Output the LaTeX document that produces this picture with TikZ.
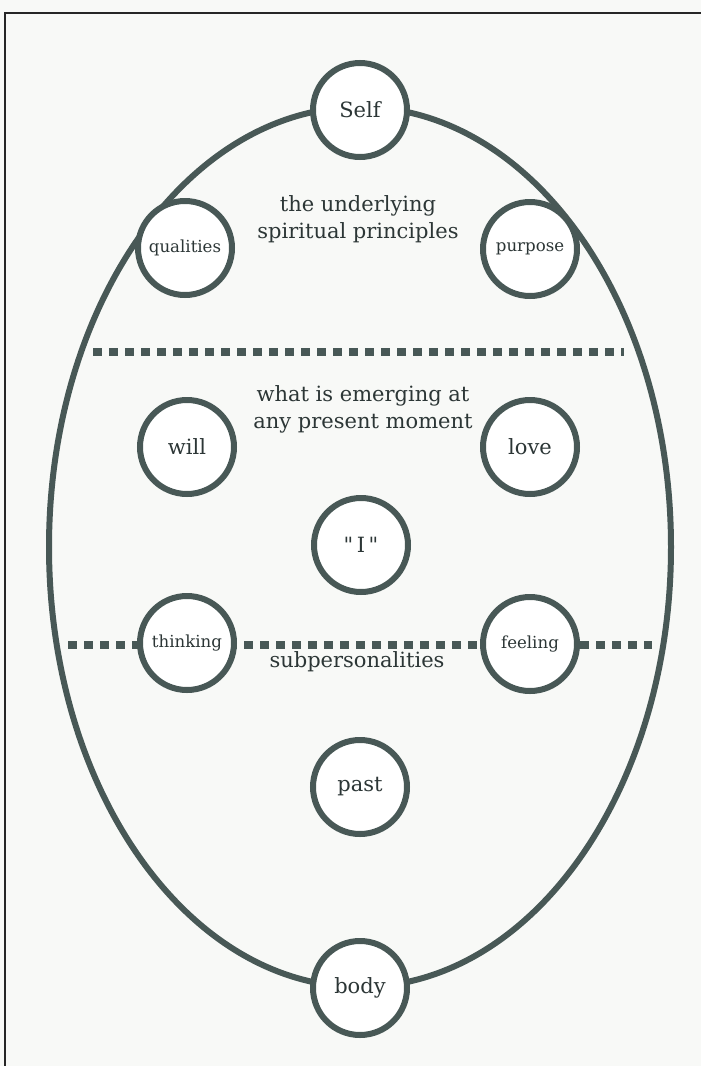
\documentclass[tikz,border=0pt]{standalone}
\usepackage{fontspec}
\setmainfont{DejaVu Serif}
\newfontfamily\plainserif{DejaVu Serif}

\definecolor{inkgrey}{RGB}{72,88,86}
\definecolor{textgrey}{RGB}{44,54,54}
\definecolor{paper}{RGB}{248,249,247}

\tikzset{
  psyche/.style={circle, draw=inkgrey, line width=3pt, fill=white,
    minimum size=47pt, inner sep=0pt, text=textgrey,
    font=\fontsize{10.5}{12}\selectfont},
  smallpsyche/.style={psyche, font=\fontsize{8.3}{10}\selectfont},
  level/.style={text=textgrey, align=center,
    font=\fontsize{10.5}{13.5}\selectfont},
  divide/.style={draw=inkgrey, line width=4pt, dash pattern=on 4.5pt off 3.5pt},
}

\begin{document}
\begin{tikzpicture}[x=0.5pt,y=-0.5pt]
            % page and frame
            \fill[paper] (0,0) rectangle (701,1066);
            \useasboundingbox (0,0) rectangle (701,1066);
            \draw[black!85, line width=0.8pt] (701,13) -- (5,13) -- (5,1066);

            % the egg
            \draw[inkgrey, line width=3pt] (360,547) ellipse [x radius=311, y radius=440];

            % Draw dividing lines
            \coordinate (upperL) at (93,352);
            \coordinate (upperR) at (624,352);
            \coordinate (lowerL) at (68,645);
            \coordinate (lowerR) at (652,645);
            \draw[divide] (upperL) -- (upperR);
            \draw[divide] (lowerL) -- (lowerR);

            % Add level labels
            \node[level] (principles) at (358,219) {the underlying\\spiritual principles};
            \node[level] (emerging) at (363,409) {what is emerging at\\any present moment};
            \node[level] (subs) at (357,662) {subpersonalities};

            % circles
            \node[psyche] (self) at (360,110) {Self};
            \node[smallpsyche] (qualities) at (185,248) {qualities};
            \node[smallpsyche] (purpose) at (530,249) {purpose};
            \node[psyche] (will) at (187,447) {will};
            \node[psyche] (love) at (530,447) {love};
            \node[psyche] (i) at (361,545) {\plainserif"\,I\,"};
            \node[smallpsyche] (thinking) at (187,643) {thinking};
            \node[smallpsyche] (feeling) at (530,644) {feeling};
            \node[psyche] (past) at (360,787) {past};
            \node[psyche] (body) at (360,988) {body};
\end{tikzpicture}
\end{document}
